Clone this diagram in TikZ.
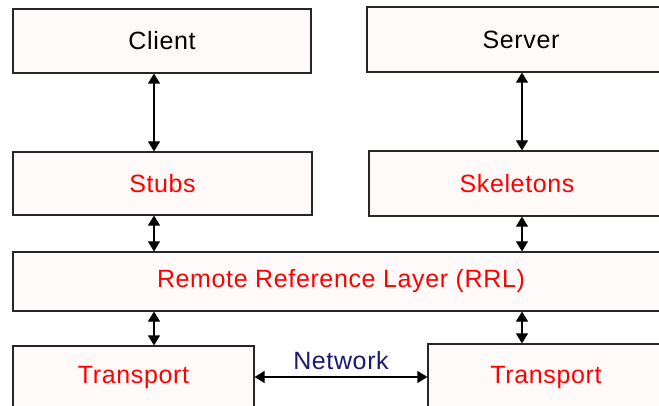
\documentclass[tikz,border=0pt]{standalone}
\usepackage{fontspec}
\setmainfont{Liberation Sans}[LetterSpace=2.5]
\usetikzlibrary{arrows.meta}
\definecolor{boxfill}{HTML}{FFFAFA}
\definecolor{netblue}{HTML}{1A1A70}
\begin{document}
\begin{tikzpicture}[x=1pt,y=-1pt,
  layer/.style={draw=black!85, line width=1.2pt, fill=boxfill, rectangle,
    inner sep=0pt, font=\fontsize{25}{30}\selectfont},
  redtext/.style={text=red},
  link/.style={line width=1.2pt, {Triangle[length=10pt,width=12pt]}-{Triangle[length=10pt,width=12pt]}}]
\path[use as bounding box, fill=white] (0,0) rectangle (659,406);
\clip (0,0) rectangle (659,406);
% columns for the vertical links
\coordinate (lx) at (154,0);
\coordinate (rx) at (522,0);
% layers
\node[layer, minimum width=298pt, minimum height=64pt] (client) at (162,41) {Client};
\node[layer, minimum width=308pt, minimum height=65pt] (server) at (521,39.5) {Server};
\node[layer, redtext, minimum width=299pt, minimum height=63pt] (stubs) at (162.5,183.5) {Stubs};
\node[layer, redtext, minimum width=296pt, minimum height=65pt] (skel) at (517,183.5) {Skeletons};
\node[layer, redtext, minimum width=656pt, minimum height=59pt] (rrl) at (341,281.5) {Remote Reference Layer (RRL)};
\node[layer, redtext, minimum width=241pt, minimum height=62pt] (tl) at (133.5,377) {Transport};
\node[layer, redtext, minimum width=236pt, minimum height=66pt] (tr) at (546,377) {Transport};
% links between layers
\draw[link] (client.south -| lx) -- (stubs.north -| lx);
\draw[link] (server.south -| rx) -- (skel.north -| rx);
\draw[link] (stubs.south -| lx) -- (rrl.north -| lx);
\draw[link] (skel.south -| rx) -- (rrl.north -| rx);
\draw[link] (rrl.south -| lx) -- (tl.north -| lx);
\draw[link] (rrl.south -| rx) -- (tr.north -| rx);
\draw[link] (tl.east) -- node[above=3pt, text=netblue, font=\fontsize{25}{30}\selectfont] {Network} (tr.west);
\end{tikzpicture}
\end{document}
